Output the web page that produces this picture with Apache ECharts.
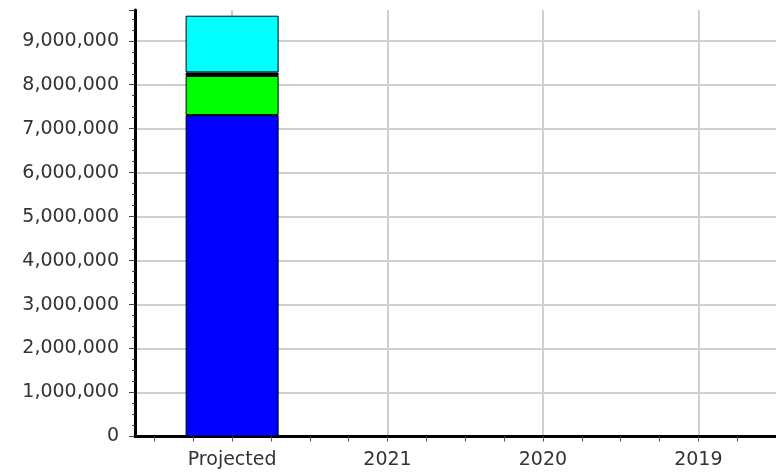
<!DOCTYPE html>
<html>
<head>
<meta charset="utf-8">
<script src="https://cdn.jsdelivr.net/npm/echarts@6.0.0/dist/echarts.min.js"></script>
<style>
  html, body { margin: 0; padding: 0; background: #fff; }
  #chart { width: 776px; height: 475px; }
</style>
</head>
<body>
<div id="chart"></div>
<script>
// categories along x, left to right
var years = ['Projected', '2021', '2020', '2019'];
// stacked pieces of each bar, bottom to top (only Projected has a bar)
var blueValues = [7310000];
var greenValues = [890000];
var blackValues = [80000];
var cyanValues = [1290000];
// y axis
var yMax = 9700000;
var yStep = 1000000;

// x axis runs on small slots so the ticks fall every quarter year
var slotsPerYear = 8;
var firstSlot = 5;
var slotCount = 34;
var slots = [];
for (var i = 0; i < slotCount; i++) slots.push('');
years.forEach(function (y, k) { slots[firstSlot + k * slotsPerYear] = y; });

function toSlots(values) {
  var d = slots.map(function () { return null; });
  values.forEach(function (v, k) { d[firstSlot + k * slotsPerYear] = v; });
  return d;
}

// one gridline per million, hide the one the axis adds at max
var yLineColors = [];
for (var j = 0; j * yStep <= yMax; j++) yLineColors.push('#cfcfcf');
yLineColors.push('rgba(0,0,0,0)');

var font = 'DejaVu Sans';

function barSeries(name, color, values) {
  return {
    name: name,
    type: 'bar',
    stack: 'total',
    barWidth: 93,
    data: toSlots(values),
    itemStyle: { color: color, borderColor: '#000', borderWidth: 1 }
  };
}

var myChart = echarts.init(document.getElementById('chart'));
var option = {
  animation: false,
  grid: { left: 135, right: -6, top: 10, bottom: 38.5, containLabel: false },
  xAxis: {
    type: 'category',
    data: slots,
    boundaryGap: false,
    axisLine: { show: true, lineStyle: { color: '#000', width: 3 } },
    axisTick: {
      show: true,
      length: 5,
      interval: function (index) { return index % 2 === 1; },
      lineStyle: { color: '#555' }
    },
    axisLabel: {
      interval: function (index, value) { return value !== ''; },
      margin: 14,
      color: '#333',
      fontFamily: font,
      fontSize: 19
    },
    splitLine: {
      show: true,
      interval: function (index) {
        return index >= firstSlot && (index - firstSlot) % slotsPerYear === 0;
      },
      lineStyle: { color: '#cfcfcf', width: 2 }
    }
  },
  yAxis: {
    type: 'value',
    min: 0,
    max: yMax,
    interval: yStep,
    axisLine: { show: true, lineStyle: { color: '#000', width: 3 } },
    axisTick: { show: true, length: 6, lineStyle: { color: '#444' } },
    minorTick: { show: true, splitNumber: 4, length: 3, lineStyle: { color: '#444' } },
    axisLabel: {
      margin: 16,
      color: '#333',
      fontFamily: font,
      fontSize: 19,
      showMaxLabel: false,
      formatter: function (v) { return v.toLocaleString('en-US'); }
    },
    splitLine: { show: true, lineStyle: { color: yLineColors, width: 2 } }
  },
  series: [
    barSeries('blue', '#0000ff', blueValues),
    barSeries('green', '#00ff00', greenValues),
    barSeries('black', '#000000', blackValues),
    barSeries('cyan', '#00ffff', cyanValues)
  ]
};
myChart.setOption(option);
</script>
</body>
</html>
